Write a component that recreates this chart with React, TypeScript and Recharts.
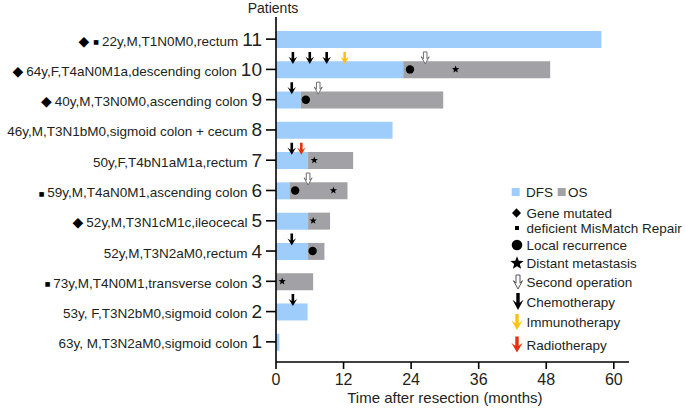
import React from 'react';
import { ComposedChart, Bar, Scatter, XAxis, YAxis, Legend } from 'recharts';

// ---------- data ----------
const patients = [11, 10, 9, 8, 7, 6, 5, 4, 3, 2, 1];
const descriptions = [
  '22y,M,T1N0M0,rectum',
  '64y,F,T4aN0M1a,descending colon',
  '40y,M,T3N0M0,ascending colon',
  '46y,M,T3N1bM0,sigmoid colon + cecum',
  '50y,F,T4bN1aM1a,rectum',
  '59y,M,T4aN0M1,ascending colon',
  '52y,M,T3N1cM1c,ileocecal',
  '52y,M,T3N2aM0,rectum',
  '73y,M,T4N0M1,transverse colon',
  '53y, F,T3N2bM0,sigmoid colon',
  '63y, M,T3N2aM0,sigmoid colon',
];
const geneMutated = [11, 10, 9, 5];
const dmmrPatients = [11, 6, 3];
const dfsMonths = [57.8, 22.6, 4.4, 20.7, 5.7, 2.4, 5.7, 5.7, 0, 5.6, 0.6];
const osMonths = [57.8, 48.7, 29.7, 20.7, 13.7, 12.7, 9.6, 8.6, 6.6, 5.6, 0.6];

const localRecurrence = [
  { patient: 10, month: 23.8 },
  { patient: 9, month: 5.3 },
  { patient: 6, month: 3.4 },
  { patient: 4, month: 6.5 },
];
const distantMetastasis = [
  { patient: 10, month: 31.9 },
  { patient: 7, month: 6.8 },
  { patient: 6, month: 10.2 },
  { patient: 5, month: 6.6 },
  { patient: 3, month: 1.1 },
];
const secondOperation = [
  { patient: 10, month: 26.5 },
  { patient: 9, month: 7.5 },
  { patient: 6, month: 5.7 },
];
const chemotherapy = [
  { patient: 10, month: 3.0 },
  { patient: 10, month: 6.0 },
  { patient: 10, month: 9.0 },
  { patient: 9, month: 2.8 },
  { patient: 7, month: 2.8 },
  { patient: 4, month: 2.8 },
  { patient: 2, month: 3.0 },
];
const immunotherapy = [{ patient: 10, month: 12.2 }];
const radiotherapy = [{ patient: 7, month: 4.5 }];

const xTicks = [0, 12, 24, 36, 48, 60];
const xMax = 62.7;

const legendLabels = [
  'Gene mutated',
  'deficient MisMatch Repair',
  'Local recurrence',
  'Distant metastasis',
  'Second operation',
  'Chemotherapy',
  'Immunotherapy',
  'Radiotherapy',
];

const rows = patients.map((p, i) => ({
  patient: p,
  dfs: dfsMonths[i],
  osExtra: Math.max(0, osMonths[i] - dfsMonths[i]),
}));

// ---------- styles ----------
const BLUE = '#9fcdfb';
const GRAY = '#a2a1a5';
const TXT = '#231f20';
const FONT = "'Liberation Sans', Arial, Helvetica, sans-serif";
const YELLOW = '#fcc30f';
const RED = '#e8300e';

// ---------- shapes ----------
const arrowPath = (cx: number, tipY: number, h: number, w: number, stem: number) => {
  const hw = w / 2;
  const s = stem / 2;
  const headH = h * 0.42;
  const barb = h * 0.18;
  return `M${cx - s},${tipY - h} L${cx + s},${tipY - h} L${cx + s},${tipY - headH} L${cx + hw},${tipY - headH - barb} L${cx},${tipY} L${cx - hw},${tipY - headH - barb} L${cx - s},${tipY - headH} Z`;
};

const starPath = (cx: number, cy: number, R: number) => {
  const r = R * 0.42;
  let d = '';
  for (let k = 0; k < 10; k++) {
    const rad = k % 2 === 0 ? R : r;
    const a = -Math.PI / 2 + (k * Math.PI) / 5;
    d += (k === 0 ? 'M' : 'L') + (cx + rad * Math.cos(a)).toFixed(2) + ',' + (cy + rad * Math.sin(a)).toFixed(2) + ' ';
  }
  return d + 'Z';
};

const solidArrow = (color: string) => (props: any) => {
  const { cx, cy } = props;
  if (cx == null || cy == null) return <g />;
  return <path d={arrowPath(cx, cy - 5.5, 12, 8.5, 2.6)} fill={color} />;
};
const hollowArrow = (props: any) => {
  const { cx, cy } = props;
  if (cx == null || cy == null) return <g />;
  return <path d={arrowPath(cx, cy - 5.5, 12, 8, 3.6)} fill="#fff" stroke="#6e6e6e" strokeWidth={1} />;
};
const dotShape = (props: any) => {
  const { cx, cy } = props;
  if (cx == null || cy == null) return <g />;
  return <circle cx={cx} cy={cy} r={4.2} fill="#000" />;
};
const starShape = (props: any) => {
  const { cx, cy } = props;
  if (cx == null || cy == null) return <g />;
  return <path d={starPath(cx, cy, 3.8)} fill="#000" />;
};

const YTick = (props: any) => {
  const { x, y, payload } = props;
  const p = payload.value;
  const i = patients.indexOf(p);
  const gene = geneMutated.includes(p);
  const dmmr = dmmrPatients.includes(p);
  return (
    <text x={x} y={y + 6.5} textAnchor="end" fill={TXT} fontFamily={FONT}>
      {gene && (
        <tspan fontSize={14} fontFamily="'DejaVu Sans', sans-serif" fill="#000">
          ◆
        </tspan>
      )}
      {dmmr && (
        <tspan fontSize={6} dy={-1.5} fontFamily="'DejaVu Sans', sans-serif" fill="#000" dx={gene ? 4 : 0}>
          ■
        </tspan>
      )}
      <tspan fontSize={13.5} dy={dmmr ? 1.5 : 0} dx={gene || dmmr ? 3 : 0}>
        {descriptions[i]}
      </tspan>
      <tspan fontSize={19} dx={4}>
        {String(p)}
      </tspan>
    </text>
  );
};

const LegendBox = () => {
  const rowY = [33, 48, 65, 82.7, 102, 121.5, 142, 164.5];
  const sx = 11.5;
  const tx = 21.5;
  const symbols = [
    <path key="g" d={`M${sx - 4.5},${rowY[0]} L${sx},${rowY[0] - 4.8} L${sx + 4.5},${rowY[0]} L${sx},${rowY[0] + 4.8} Z`} fill="#000" />,
    <rect key="d" x={sx - 1.5} y={rowY[1] - 2} width={4} height={4} fill="#000" />,
    <circle key="l" cx={sx + 0.5} cy={rowY[2]} r={5.3} fill="#000" />,
    <path key="s" d={starPath(sx + 0.5, rowY[3] + 0.5, 7)} fill="#000" />,
    <path key="o" d={arrowPath(sx + 1.5, rowY[4] + 7, 14, 9, 4)} fill="#fff" stroke="#555" strokeWidth={1} />,
    <path key="c" d={arrowPath(sx + 1.5, rowY[5] + 8.5, 17, 11, 3.4)} fill="#000" />,
    <path key="i" d={arrowPath(sx + 0.5, rowY[6] + 8, 16, 11, 3.4)} fill={YELLOW} />,
    <path key="r" d={arrowPath(sx + 0.5, rowY[7] + 8, 16, 11, 3.4)} fill={RED} />,
  ];
  return (
    <svg width={180} height={180} style={{ display: 'block' }}>
      <rect x={6.7} y={8} width={8} height={8} fill={BLUE} />
      <text x={21} y={17} fontSize={13.5} fontFamily={FONT} fill={TXT}>
        DFS
      </text>
      <rect x={52.7} y={8} width={8} height={8} fill={GRAY} />
      <text x={63} y={17} fontSize={13.5} fontFamily={FONT} fill={TXT}>
        OS
      </text>
      {legendLabels.map((lab, k) => (
        <g key={lab}>
          {symbols[k]}
          <text x={tx} y={rowY[k] + 5} fontSize={13.5} fontFamily={FONT} fill={TXT}>
            {lab}
          </text>
        </g>
      ))}
    </svg>
  );
};

export default function App() {
  return (
    <div style={{ position: 'absolute', left: 0, top: 0, width: 685, height: 409, background: '#fff' }}>
      <ComposedChart
        width={685}
        height={409}
        data={rows}
        layout="vertical"
        margin={{ top: 17, right: 56, bottom: 0, left: 0 }}
      >
        <XAxis
          type="number"
          domain={[0, xMax]}
          ticks={xTicks}
          allowDataOverflow
          height={47}
          tickSize={7}
          tickMargin={5}
          axisLine={{ stroke: '#000', strokeWidth: 1.6 }}
          tickLine={{ stroke: '#000', strokeWidth: 1.6 }}
          tick={{ fontSize: 16, fill: TXT, fontFamily: FONT }}
          label={(props: any) => {
            const vb = props.viewBox || {};
            return (
              <text
                x={vb.x + (vb.width * (60 / xMax)) / 2}
                y={vb.y + 41}
                textAnchor="middle"
                fontSize={15}
                fontFamily={FONT}
                fill={TXT}
              >
                Time after resection (months)
              </text>
            );
          }}
        />
        <YAxis
          type="category"
          dataKey="patient"
          width={276}
          allowDuplicatedCategory={false}
          interval={0}
          padding={{ top: 7, bottom: 5 }}
          tickSize={10}
          tickMargin={4}
          axisLine={{ stroke: '#000', strokeWidth: 1.6 }}
          tickLine={{ stroke: '#000', strokeWidth: 1.6 }}
          tick={<YTick />}
          label={(props: any) => {
            const vb = props.viewBox || {};
            return (
              <text
                x={vb.x + vb.width - 3}
                y={vb.y - 4}
                textAnchor="middle"
                fontSize={14}
                fontFamily={FONT}
                fill={TXT}
              >
                Patients
              </text>
            );
          }}
        />
        <Scatter data={rows} dataKey="dfs" shape={() => <g />} isAnimationActive={false} legendType="none" />
        <Bar dataKey="dfs" stackId="s" fill={BLUE} barSize={17} isAnimationActive={false} />
        <Bar dataKey="osExtra" stackId="s" fill={GRAY} barSize={17} isAnimationActive={false} />
        <Scatter data={localRecurrence} dataKey="month" shape={dotShape} isAnimationActive={false} />
        <Scatter data={distantMetastasis} dataKey="month" shape={starShape} isAnimationActive={false} />
        <Scatter data={secondOperation} dataKey="month" shape={hollowArrow} isAnimationActive={false} />
        <Scatter data={chemotherapy} dataKey="month" shape={solidArrow('#000')} isAnimationActive={false} />
        <Scatter data={immunotherapy} dataKey="month" shape={solidArrow(YELLOW)} isAnimationActive={false} />
        <Scatter data={radiotherapy} dataKey="month" shape={solidArrow(RED)} isAnimationActive={false} />
        <Legend
          layout="vertical"
          align="center"
          verticalAlign="middle"
          wrapperStyle={{ left: 505, top: 180, width: 180, height: 180 }}
          content={() => <LegendBox />}
        />
      </ComposedChart>
    </div>
  );
}
